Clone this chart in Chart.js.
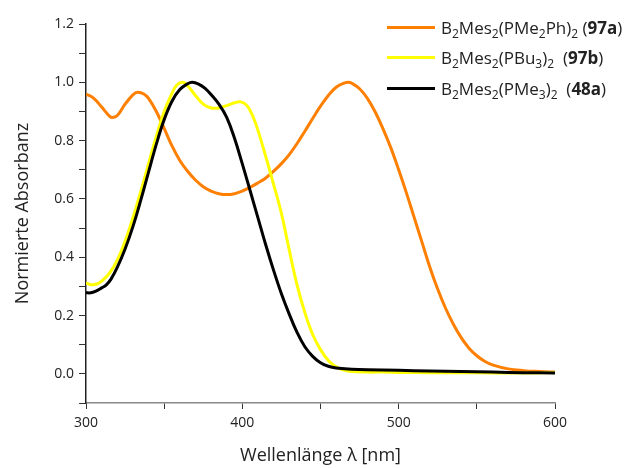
<!DOCTYPE html>
<html lang="de">
<head>
  <meta charset="UTF-8">
  <title>Normierte Absorbanz</title>
  <script src="https://cdn.jsdelivr.net/npm/chart.js"></script>
  <style>
    * { margin: 0; padding: 0; box-sizing: border-box; }
    body { background: #fff; width: 627px; height: 468px; overflow: hidden; position: relative; font-family: 'Open Sans', sans-serif; }
    #chart { position: absolute; left: 0; top: 0; }
    .legend { position: absolute; left: 387px; top: 12px; color: #222; font-size: 17px; }
    .legend .row { height: 30.5px; display: flex; align-items: center; white-space: nowrap; }
    .legend .swatch { display: inline-block; width: 48px; height: 3px; margin-right: 6px; flex: none; }
    .legend sub { font-size: 12px; vertical-align: -4px; line-height: 0; }
  </style>
</head>
<body>

<canvas id="chart" width="627" height="468"></canvas>

<div class="legend">
  <div class="row"><span class="swatch" style="background:#ff7f00"></span><span>B<sub>2</sub>Mes<sub>2</sub>(PMe<sub>2</sub>Ph)<sub>2</sub> (<b>97a</b>)</span></div>
  <div class="row"><span class="swatch" style="background:#ffff00"></span><span>B<sub>2</sub>Mes<sub>2</sub>(PBu<sub>3</sub>)<sub>2</sub>&nbsp; (<b>97b</b>)</span></div>
  <div class="row"><span class="swatch" style="background:#000"></span><span>B<sub>2</sub>Mes<sub>2</sub>(PMe<sub>3</sub>)<sub>2</sub>&nbsp; (<b>48a</b>)</span></div>
</div>

<script>
  // 97a  B2Mes2(PMe2Ph)2
  const wl97a = [300, 305, 310, 315, 317, 320, 325, 330, 333, 337, 340, 345, 350, 355, 360, 365, 370, 375, 380, 385, 390, 395, 400, 405, 410, 415, 420, 425, 430, 435, 440, 445, 450, 455, 460, 465, 468, 470, 475, 480, 485, 490, 495, 500, 505, 510, 515, 520, 525, 530, 535, 540, 545, 550, 555, 560, 570, 580, 590, 600];
  const abs97a = [0.960, 0.945, 0.915, 0.884, 0.879, 0.886, 0.925, 0.957, 0.966, 0.960, 0.945, 0.900, 0.842, 0.782, 0.732, 0.695, 0.665, 0.642, 0.627, 0.618, 0.615, 0.618, 0.627, 0.640, 0.655, 0.672, 0.695, 0.721, 0.752, 0.790, 0.832, 0.876, 0.918, 0.955, 0.983, 0.997, 1.000, 0.997, 0.978, 0.945, 0.898, 0.840, 0.775, 0.700, 0.620, 0.535, 0.450, 0.365, 0.290, 0.225, 0.170, 0.124, 0.088, 0.062, 0.043, 0.031, 0.017, 0.011, 0.008, 0.006];

  // 97b  B2Mes2(PBu3)2
  const wl97b = [300, 303, 307, 310, 315, 320, 325, 330, 335, 340, 345, 350, 355, 358, 362, 365, 370, 375, 380, 385, 390, 395, 399, 403, 407, 410, 415, 420, 425, 430, 435, 440, 445, 450, 455, 460, 465, 470, 480, 490, 500, 520, 540, 560, 580, 600];
  const abs97b = [0.312, 0.306, 0.308, 0.318, 0.345, 0.390, 0.455, 0.535, 0.625, 0.720, 0.815, 0.900, 0.962, 0.990, 1.000, 0.988, 0.955, 0.925, 0.912, 0.912, 0.920, 0.930, 0.933, 0.920, 0.880, 0.835, 0.745, 0.650, 0.550, 0.425, 0.305, 0.210, 0.135, 0.083, 0.046, 0.024, 0.013, 0.008, 0.006, 0.006, 0.005, 0.004, 0.004, 0.003, 0.003, 0.005];

  // 48a  B2Mes2(PMe3)2
  const wl48a = [300, 303, 306, 310, 313, 316, 320, 325, 330, 335, 340, 345, 350, 355, 360, 365, 368, 372, 376, 380, 385, 390, 395, 400, 405, 410, 415, 420, 425, 430, 435, 440, 445, 450, 455, 460, 470, 480, 500, 520, 540, 560, 580, 600];
  const abs48a = [0.278, 0.278, 0.283, 0.295, 0.305, 0.325, 0.365, 0.428, 0.505, 0.595, 0.692, 0.788, 0.872, 0.935, 0.975, 0.995, 1.000, 0.994, 0.980, 0.958, 0.925, 0.880, 0.808, 0.720, 0.628, 0.535, 0.442, 0.355, 0.275, 0.205, 0.142, 0.093, 0.060, 0.038, 0.026, 0.020, 0.016, 0.014, 0.012, 0.010, 0.008, 0.006, 0.004, 0.003];

  const xTicks = [300, 400, 500, 600];
  const yTicks = [0.0, 0.2, 0.4, 0.6, 0.8, 1.0, 1.2];

  function toPoints(xs, ys) {
    return xs.map((x, i) => ({ x: x, y: ys[i] }));
  }

  function lineSet(label, xs, ys, color, order) {
    return {
      label: label,
      data: toPoints(xs, ys),
      borderColor: color,
      backgroundColor: color,
      borderWidth: 3,
      pointRadius: 0,
      tension: 0.4,
      order: order
    };
  }

  const font = "'Open Sans', sans-serif";

  new Chart(document.getElementById('chart'), {
    type: 'line',
    data: {
      datasets: [
        lineSet('B2Mes2(PMe2Ph)2 (97a)', wl97a, abs97a, '#ff7f00', 2),
        lineSet('B2Mes2(PBu3)2 (97b)', wl97b, abs97b, '#ffff00', 1),
        lineSet('B2Mes2(PMe3)2 (48a)', wl48a, abs48a, '#000000', 0)
      ]
    },
    options: {
      responsive: false,
      animation: false,
      devicePixelRatio: 1,
      layout: { padding: { top: 24, right: 72, left: 0, bottom: 0 } },
      plugins: {
        legend: { display: false },
        tooltip: { enabled: false }
      },
      scales: {
        x: {
          type: 'linear',
          min: 300,
          max: 600,
          afterFit: s => { s.height = 65; },
          afterBuildTicks: s => {
            const t = [];
            for (let v = 300; v <= 600; v += 50) t.push({ value: v });
            s.ticks = t;
          },
          ticks: {
            color: '#222',
            font: { family: font, size: 14 },
            padding: 6,
            maxRotation: 0,
            autoSkip: false,
            callback: v => xTicks.includes(v) ? String(v) : ''
          },
          grid: { drawOnChartArea: false, tickLength: 6, tickColor: '#333' },
          border: { color: '#888', width: 1.5 },
          title: {
            display: true,
            text: 'Wellenlänge λ [nm]',
            color: '#222',
            font: { family: font, size: 18 },
            padding: { top: 0, bottom: 1 }
          }
        },
        y: {
          min: -0.1,
          max: 1.2,
          afterFit: s => { s.width = 86; },
          afterBuildTicks: s => {
            const t = [];
            for (let i = -1; i <= 12; i++) t.push({ value: i / 10 });
            s.ticks = t;
          },
          ticks: {
            color: '#222',
            font: { family: font, size: 14 },
            padding: 5,
            autoSkip: false,
            callback: v => {
              const r = Math.round(v * 10) / 10;
              return yTicks.some(t => Math.abs(t - r) < 1e-6) ? r.toFixed(1) : '';
            }
          },
          grid: { drawOnChartArea: false, tickLength: 7, tickColor: '#333' },
          border: { color: '#222', width: 1.5 },
          title: {
            display: true,
            text: 'Normierte Absorbanz',
            color: '#222',
            font: { family: font, size: 18 },
            padding: { top: 12, bottom: 0 }
          }
        }
      }
    }
  });
</script>

</body>
</html>
